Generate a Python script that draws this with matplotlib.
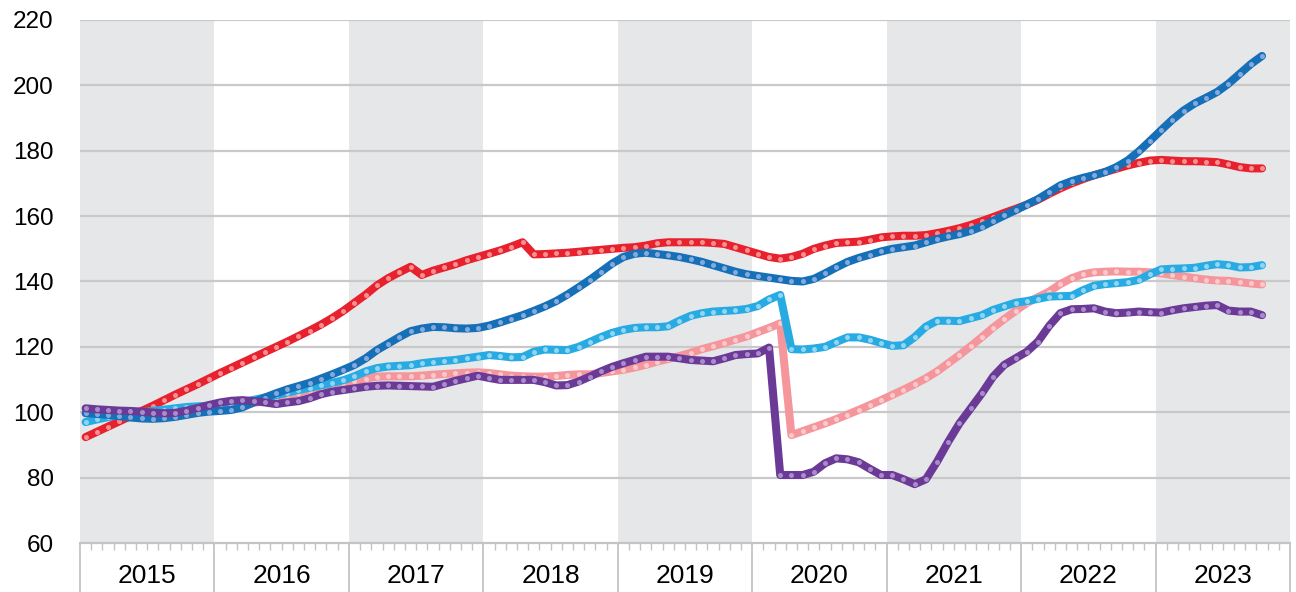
import numpy as np
import matplotlib.pyplot as plt
import matplotlib.transforms as mtransforms

plt.rcParams['font.family'] = ['Liberation Sans', 'DejaVu Sans']

# monthly values, Jan 2015 .. Oct 2023
years = ['2015', '2016', '2017', '2018', '2019', '2020', '2021', '2022', '2023']

red = [92.4, 94.0, 95.6, 97.2, 98.8, 100.4, 102.0, 103.7, 105.4, 107.0, 108.6, 110.3,
       112.0, 113.6, 115.2, 116.8, 118.4, 120.0, 121.6, 123.3, 125.0, 126.8, 128.8, 131.0,
       133.5, 136.0, 138.8, 141.0, 142.8, 144.5, 142.0, 143.3, 144.3, 145.3, 146.5, 147.5,
       148.5, 149.5, 150.7, 152.0, 148.3, 148.4, 148.6, 148.8, 149.1, 149.4, 149.7, 150.0,
       150.3, 150.5, 151.0, 151.7, 152.0, 152.0, 152.0, 152.0, 151.8, 151.5, 150.5, 149.5,
       148.5, 147.5, 147.0, 147.5, 148.5, 150.0, 151.0, 151.8, 152.0, 152.2, 152.8, 153.5,
       153.8, 154.0, 154.0, 154.2, 154.8, 155.5, 156.3, 157.3, 158.5, 159.7, 161.0, 162.2,
       163.5, 165.0, 166.8, 168.5, 170.0, 171.3, 172.5, 173.5, 174.5, 175.5, 176.3, 177.0,
       177.2, 177.0, 176.8, 176.8, 176.7, 176.5, 175.8, 175.0, 174.6, 174.6]

blue = [99.7, 99.5, 99.2, 98.8, 98.4, 98.1, 98.0, 98.2, 98.6, 99.2, 99.8, 100.2,
        100.4, 100.7, 101.5, 103.0, 104.5, 105.8, 107.0, 108.0, 109.0, 110.3, 111.6, 113.0,
        114.5, 116.5, 119.0, 121.0, 123.0, 124.8, 125.6, 126.1, 126.0, 125.7, 125.6, 125.8,
        126.5, 127.5, 128.6, 129.7, 131.0, 132.4, 134.0, 136.0, 138.2, 140.5, 143.0, 145.5,
        147.5, 148.5, 148.8, 148.4, 148.0, 147.5, 146.8, 146.0, 145.0, 144.0, 143.0, 142.2,
        141.7, 141.2, 140.7, 140.2, 140.0, 140.8, 142.5, 144.3, 146.0, 147.2, 148.2, 149.2,
        150.0, 150.5, 151.0, 152.0, 153.0, 153.8, 154.5, 155.5, 156.8, 158.5, 160.2, 161.8,
        163.5, 165.2, 167.3, 169.4, 170.7, 171.7, 172.5, 173.5, 175.0, 177.0, 179.8, 183.0,
        186.3, 189.5, 192.3, 194.5, 196.2, 198.0, 200.5, 203.5, 206.5, 209.0]

cyan = [97.0, 97.8, 98.5, 99.2, 99.7, 100.0, 100.4, 100.8, 101.2, 101.6, 101.8, 102.0,
        102.2, 102.5, 103.0, 103.8, 104.5, 105.2, 106.0, 106.8, 107.5, 108.2, 109.0, 109.8,
        111.0, 112.5, 113.5, 114.0, 114.2, 114.4, 115.0, 115.4, 115.7, 116.0, 116.5, 117.0,
        117.5, 117.2, 116.8, 116.9, 118.5, 119.2, 119.1, 119.0, 120.0, 121.5, 123.0, 124.3,
        125.2, 125.8, 126.0, 126.0, 126.3, 128.0, 129.5, 130.3, 130.8, 131.0, 131.2, 131.6,
        132.5, 134.5, 135.9, 119.3, 119.2, 119.5, 120.0, 121.5, 122.9, 122.9, 122.2, 121.2,
        120.3, 120.5, 123.0, 126.2, 128.0, 128.0, 127.9, 128.8, 129.7, 131.3, 132.4, 133.5,
        134.0, 134.7, 135.4, 135.5, 135.6, 137.3, 138.7, 139.2, 139.5, 139.8, 140.5, 142.2,
        143.7, 143.9, 144.0, 144.2, 144.8, 145.3, 145.0, 144.3, 144.4, 145.0]

pink = [100.0, 99.8, 99.6, 99.5, 99.5, 99.6, 99.8, 100.0, 100.3, 100.6, 100.9, 101.2,
        101.5, 101.8, 102.2, 102.8, 103.5, 104.3, 105.2, 106.0, 106.8, 107.5, 108.2, 108.8,
        109.5, 110.3, 110.9, 111.0, 111.0, 111.0, 111.2, 111.5, 111.7, 111.9, 112.1, 112.2,
        112.0, 111.6, 111.2, 111.0, 110.9, 110.9, 111.1, 111.4, 111.6, 111.6, 112.0, 112.5,
        113.0, 113.7, 114.5, 115.5, 116.3, 117.2, 118.2, 119.3, 120.2, 121.2, 122.2, 123.2,
        124.5, 125.8, 127.2, 93.0, 94.2, 95.4, 96.6, 97.9, 99.3, 100.7, 102.2, 103.7,
        105.3, 106.9, 108.6, 110.4, 112.5, 115.0, 117.5, 120.2, 123.0, 125.9, 128.5, 131.0,
        133.4, 135.2, 136.9, 139.2, 141.0, 142.2, 142.8, 143.0, 143.1, 143.0, 143.0, 142.8,
        142.5, 142.0, 141.5, 141.0, 140.6, 140.3, 140.2, 139.8, 139.4, 139.1]

purple = [101.2, 100.9, 100.7, 100.5, 100.4, 100.2, 99.9, 99.7, 99.8, 100.5, 101.3, 102.2,
          103.0, 103.5, 103.7, 103.4, 103.0, 102.5, 103.0, 103.4, 104.3, 105.5, 106.3, 106.8,
          107.3, 107.8, 108.1, 108.2, 108.1, 108.0, 107.9, 107.8, 108.7, 109.6, 110.4, 111.2,
          110.5, 109.9, 109.9, 109.9, 109.9, 109.2, 108.2, 108.3, 109.4, 110.9, 112.5, 113.9,
          115.0, 116.0, 117.0, 117.0, 117.0, 116.5, 116.0, 115.8, 115.6, 116.5, 117.5, 117.8,
          118.0, 119.8, 80.8, 80.8, 80.8, 81.8, 84.4, 85.9, 85.6, 84.7, 82.7, 80.8,
          80.8, 79.5, 78.0, 79.5, 84.9, 91.0, 96.6, 101.2, 105.8, 110.9, 114.5, 116.5,
          118.5, 121.6, 126.4, 130.3, 131.5, 131.6, 131.8, 130.8, 130.3, 130.5, 130.8, 130.6,
          130.5, 131.2, 131.8, 132.2, 132.6, 132.8, 131.1, 130.8, 130.8, 129.7]

# (values, line colour, dot colour), drawn bottom to top
series = [
    (pink, '#f5969c', '#fbc9cb'),
    (red, '#e8212f', '#f7908f'),
    (cyan, '#28abe2', '#92d5f3'),
    (blue, '#1670b8', '#86a9dc'),
    (purple, '#6b3996', '#ab8cca'),
]

fig = plt.figure(figsize=(12.96, 5.92), dpi=100)
ax = fig.add_axes([80 / 1296, 49 / 592, 1210 / 1296, 523 / 592])

# alternating year bands
for k in range(0, len(years), 2):
    ax.axvspan(12 * k, 12 * (k + 1), color='#e6e7e9', lw=0, zorder=0)

for v in range(80, 221, 20):
    ax.axhline(v, color='#c9c9c9', lw=1.6, zorder=1)

for vals, col, dot in series:
    x = np.arange(len(vals)) + 0.5
    ax.plot(x, vals, color=col, lw=5.8, solid_joinstyle='round',
            solid_capstyle='round', zorder=3)
    ax.plot(x, vals, 'o', color=dot, markersize=3.6, mew=0, zorder=3)

ax.set_xlim(0, 108)
ax.set_ylim(60, 220)
ax.set_yticks(range(60, 221, 20))
ax.tick_params(axis='y', length=0, pad=19, labelsize=17.5)

ax.set_xticks(range(0, 109, 12))
ax.set_xticklabels([])
ax.set_xticks(range(0, 109), minor=True)
ax.tick_params(axis='x', which='major', length=35.5, width=1.3, color='#c4c4c4')
ax.tick_params(axis='x', which='minor', length=5, width=1.0, color='#c4c4c4')

trans = mtransforms.blended_transform_factory(ax.transData, ax.transAxes)
for k, yr in enumerate(years):
    ax.text(12 * k + 6, -0.064, yr, transform=trans, ha='center', va='center',
            fontsize=19)

for s in ['left', 'right', 'top']:
    ax.spines[s].set_visible(False)
ax.spines['bottom'].set_color('#c4c4c4')
ax.spines['bottom'].set_linewidth(1.6)

plt.savefig('out.png', dpi=100)
